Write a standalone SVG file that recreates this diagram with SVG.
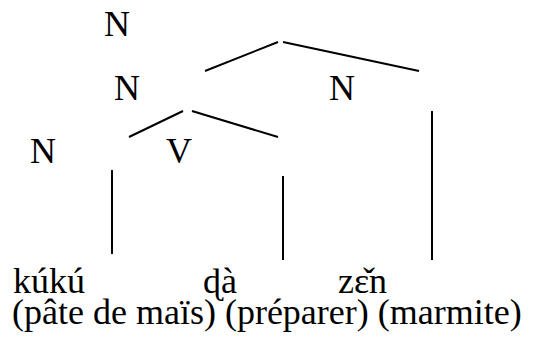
<svg xmlns="http://www.w3.org/2000/svg" width="542" height="349" viewBox="0 0 542 349">
  <rect width="542" height="349" fill="#fff"/>
  <g id="connectors" stroke="#000" stroke-width="2" fill="none">
    <line x1="205" y1="71" x2="278" y2="42"/>
    <line x1="283" y1="42" x2="419" y2="71"/>
    <line x1="129" y1="137" x2="183" y2="111"/>
    <line x1="192" y1="111" x2="278" y2="137"/>
    <line x1="112" y1="170" x2="112" y2="254"/>
    <line x1="283" y1="176" x2="283" y2="260"/>
    <line x1="432" y1="111" x2="432" y2="260"/>
  </g>
  <!-- labels set at 30px and scaled by 1.2 to a 36px size -->
  <g id="node-root"><text transform="translate(104 36) scale(1.2)" font-family="Liberation Serif" font-size="30">N</text></g>
  <g id="node-n-compound"><text transform="translate(114 100) scale(1.2)" font-family="Liberation Serif" font-size="30">N</text></g>
  <g id="node-n-right"><text transform="translate(329 100) scale(1.2)" font-family="Liberation Serif" font-size="30">N</text></g>
  <g id="node-n-left"><text transform="translate(30 163) scale(1.2)" font-family="Liberation Serif" font-size="30">N</text></g>
  <g id="node-v"><text transform="translate(166 163) scale(1.2)" font-family="Liberation Serif" font-size="30">V</text></g>
  <g id="word-kuku"><text transform="translate(13 293) scale(1.2)" font-family="Liberation Serif" font-size="30">kúkú</text></g>
  <g id="word-da"><text transform="translate(203 293) scale(1.2)" font-family="Liberation Serif" font-size="30">ɖà</text></g>
  <g id="word-zen"><text transform="translate(338 293) scale(1.2)" font-family="Liberation Serif" font-size="30">zɛ̌n</text></g>
  <g id="gloss"><text transform="translate(12 324) scale(1.2)" font-family="Liberation Serif" font-size="30">(pâte de maïs) (préparer) (marmite)</text></g>
</svg>
